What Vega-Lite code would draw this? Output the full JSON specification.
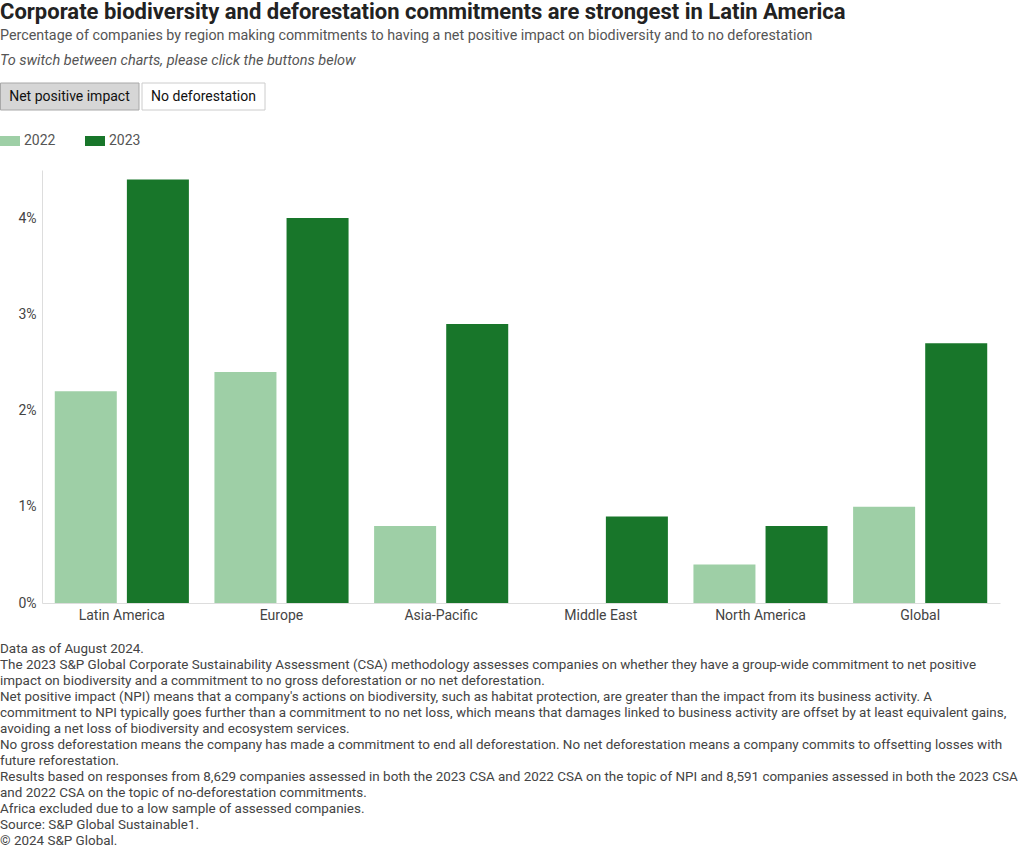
{
  "$schema": "https://vega.github.io/schema/vega-lite/v6.json",
  "padding": {"left": 0, "top": 0, "right": 0, "bottom": 0},
  "background": "white",
  "align": "none",
  "spacing": 20,
  "resolve": {"legend": {"color": "independent", "fill": "independent", "stroke": "independent"}, "scale": {"color": "independent"}},
  "config": {
    "font": "Roboto",
    "view": {"stroke": null},
    "title": {"anchor": "start", "frame": "bounds"}
  },
  "title": {
    "text": "Corporate biodiversity and deforestation commitments are strongest in Latin America",
    "subtitle": "Percentage of companies by region making commitments to having a net positive impact on biodiversity and to no deforestation",
    "fontSize": 22,
    "fontWeight": "bold",
    "color": "#222222",
    "subtitleFontSize": 14.3,
    "subtitleColor": "#555555",
    "subtitlePadding": 5,
    "anchor": "start",
    "offset": 9
  },
  "vconcat": [
    {
      "width": 266,
      "height": 27,
      "title": {
        "text": "To switch between charts, please click the buttons below",
        "fontSize": 14.5,
        "fontStyle": "italic",
        "fontWeight": "normal",
        "color": "#555555",
        "offset": 14
      },
      "data": {
        "values": [
          {"label": "Net positive impact", "start": 0.5, "end": 139, "mid": 69.5, "state": "selected"},
          {"label": "No deforestation", "start": 142, "end": 265, "mid": 203.5, "state": "unselected"}
        ]
      },
      "layer": [
        {
          "mark": {"type": "rect", "strokeWidth": 1},
          "encoding": {
            "x": {"field": "start", "type": "quantitative", "scale": {"domain": [42, 308], "nice": false, "zero": false}, "axis": null},
            "x2": {"field": "end"},
            "y": {"datum": 0, "type": "quantitative", "scale": {"domain": [0, 1], "nice": false}, "axis": null},
            "y2": {"datum": 1},
            "fill": {"field": "state", "type": "nominal", "scale": {"domain": ["selected", "unselected"], "range": ["#d6d6d6", "#ffffff"]}, "legend": null},
            "stroke": {"field": "state", "type": "nominal", "scale": {"domain": ["selected", "unselected"], "range": ["#a8a8a8", "#cccccc"]}, "legend": null}
          }
        },
        {
          "mark": {"type": "text", "fontSize": 14, "color": "#111111", "align": "center", "baseline": "middle"},
          "encoding": {
            "x": {"field": "mid", "type": "quantitative"},
            "y": {"datum": 0.5, "type": "quantitative"},
            "text": {"field": "label", "type": "nominal"}
          }
        }
      ]
    },
    {
      "width": 958,
      "height": 433,
      "title": {
        "text": [
          "Data as of August 2024.",
          "The 2023 S&P Global Corporate Sustainability Assessment (CSA) methodology assesses companies on whether they have a group-wide commitment to net positive",
          "impact on biodiversity and a commitment to no gross deforestation or no net deforestation.",
          "Net positive impact (NPI) means that a company's actions on biodiversity, such as habitat protection, are greater than the impact from its business activity. A",
          "commitment to NPI typically goes further than a commitment to no net loss, which means that damages linked to business activity are offset by at least equivalent gains,",
          "avoiding a net loss of biodiversity and ecosystem services.",
          "No gross deforestation means the company has made a commitment to end all deforestation. No net deforestation means a company commits to offsetting losses with",
          "future reforestation.",
          "Results based on responses from 8,629 companies assessed in both the 2023 CSA and 2022 CSA on the topic of NPI and 8,591 companies assessed in both the 2023 CSA",
          "and 2022 CSA on the topic of no-deforestation commitments.",
          "Africa excluded due to a low sample of assessed companies.",
          "Source: S&P Global Sustainable1.",
          "© 2024 S&P Global."
        ],
        "orient": "bottom",
        "anchor": "start",
        "frame": "bounds",
        "fontSize": 13.45,
        "fontWeight": "normal",
        "color": "#444444",
        "lineHeight": 16,
        "offset": 20
      },
      "data": {
        "values": [
          {"region": "Latin America", "year": "2022", "value": 2.2},
          {"region": "Latin America", "year": "2023", "value": 4.4},
          {"region": "Europe", "year": "2022", "value": 2.4},
          {"region": "Europe", "year": "2023", "value": 4.0},
          {"region": "Asia-Pacific", "year": "2022", "value": 0.8},
          {"region": "Asia-Pacific", "year": "2023", "value": 2.9},
          {"region": "Middle East", "year": "2022", "value": 0},
          {"region": "Middle East", "year": "2023", "value": 0.9},
          {"region": "North America", "year": "2022", "value": 0.4},
          {"region": "North America", "year": "2023", "value": 0.8},
          {"region": "Global", "year": "2022", "value": 1.0},
          {"region": "Global", "year": "2023", "value": 2.7}
        ]
      },
      "mark": {"type": "bar"},
      "encoding": {
        "x": {
          "field": "region",
          "type": "nominal",
          "sort": ["Latin America", "Europe", "Asia-Pacific", "Middle East", "North America", "Global"],
          "scale": {"paddingInner": 0.16, "paddingOuter": 0.08},
          "axis": {"title": null, "labelAngle": 0, "ticks": false, "domainColor": "#dddddd", "labelFontSize": 14, "labelColor": "#444444", "labelPadding": 5}
        },
        "xOffset": {"field": "year", "type": "nominal", "scale": {"paddingInner": 0.14}},
        "y": {
          "field": "value",
          "type": "quantitative",
          "scale": {"domain": [0, 4.5], "nice": false},
          "axis": {"title": null, "values": [0, 1, 2, 3, 4], "labelExpr": "datum.value + '%'", "grid": false, "ticks": false, "domainColor": "#dddddd", "labelFontSize": 14, "labelColor": "#444444", "labelPadding": 6}
        },
        "color": {
          "field": "year",
          "type": "nominal",
          "scale": {"domain": ["2022", "2023"], "range": ["#9ecfa6", "#18762a"]},
          "legend": {
            "title": null,
            "orient": "none",
            "direction": "horizontal",
            "legendX": -42,
            "legendY": -39,
            "symbolType": "M-1,-0.5H1V0.5H-1Z",
            "symbolSize": 400,
            "symbolStrokeWidth": 0,
            "labelFontSize": 14,
            "labelColor": "#555555",
            "labelOffset": 4,
            "columnPadding": 29
          }
        }
      }
    }
  ]
}
